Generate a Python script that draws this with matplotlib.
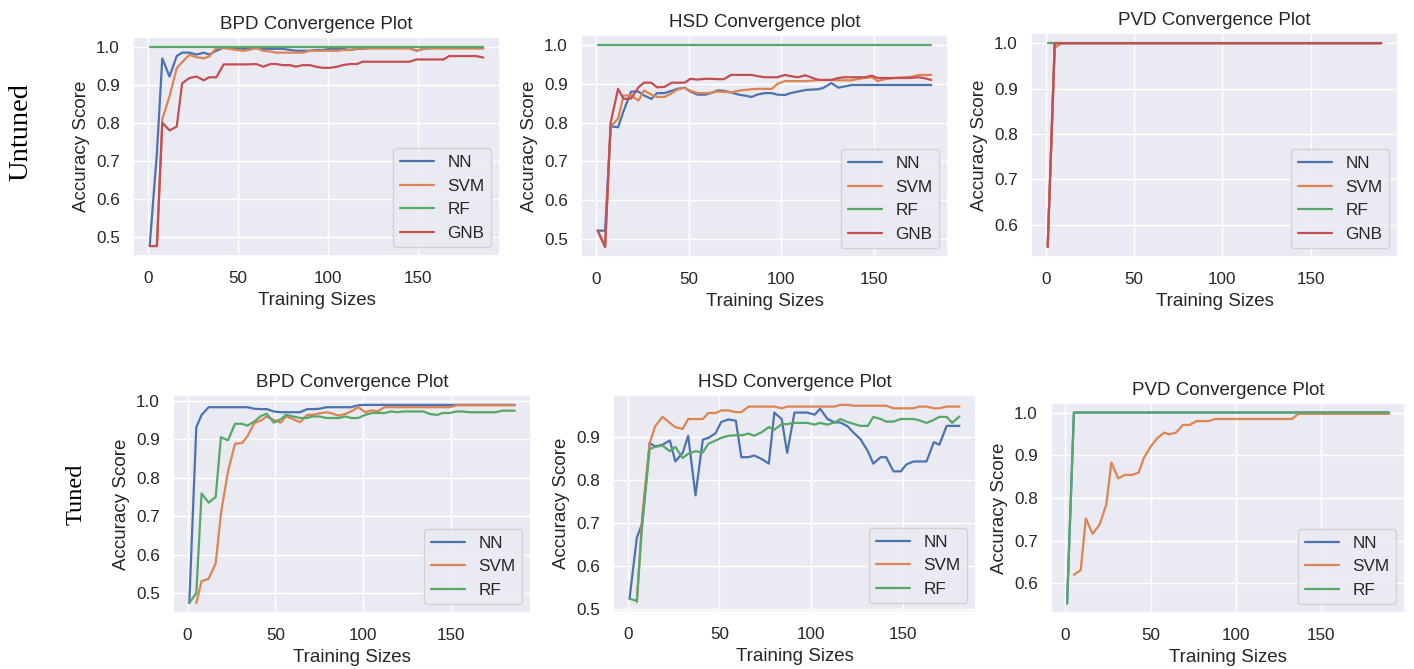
import numpy as np
import seaborn as sns
from matplotlib import pyplot as plt

nan = np.nan

# training sizes per dataset
bpd_sizes = [1, 5, 8, 12, 16, 19, 23, 27, 31, 34, 38, 42, 45, 49, 53, 56, 60, 64, 68, 71,
             75, 79, 82, 86, 90, 93, 97, 101, 105, 108, 112, 116, 119, 123, 127, 130, 134,
             138, 142, 145, 149, 153, 156, 160, 164, 167, 171, 175, 179, 182, 186]
hsd_sizes = [1, 5, 8, 12, 15, 19, 23, 26, 30, 33, 37, 41, 44, 48, 51, 55, 59, 62, 66, 69,
             73, 77, 80, 84, 87, 91, 95, 98, 102, 105, 109, 113, 116, 120, 123, 127, 131,
             134, 138, 141, 145, 149, 152, 156, 159, 163, 167, 170, 174, 177, 181]
pvd_sizes = [1, 5, 9, 12, 16, 20, 24, 27, 31, 35, 39, 43, 46, 50, 54, 58, 61, 65, 69, 73,
             77, 80, 84, 88, 92, 95, 99, 103, 107, 111, 114, 118, 122, 126, 129, 133, 137,
             141, 145, 148, 152, 156, 160, 163, 167, 171, 175, 179, 182, 186, 190]

# untuned BPD
bpd_nn = [.475, .72, .97, .922, .976, .985, .985, .98, .985, .98, .99, .998, .998, .997, .995,
          .995, .997, .995, .995, .995, .995, .992, .99, .99, .99, .992, .992, .995, .995, .995,
          .992, .995, .995, .997, .997, .997, .997, .997, .997, .997, .99, .995, .997, .997,
          .997, .997, .997, .997, .997, .997, .997]
bpd_svm = [.475, .475, .81, .87, .944, .96, .979, .973, .97, .975, .997, .997, .995, .992, .99,
           .992, .997, .99, .988, .985, .985, .985, .985, .985, .99, .99, .99, .99, .99, .992,
           .992, .996, .996, .996, .996, .996, .996, .996, .996, .996, .99, .996, .996, .996,
           .996, .996, .996, .996, .996, .996, .996]
bpd_rf = [1.0] * 51
bpd_gnb = [.475, .475, .80, .78, .79, .904, .918, .922, .912, .92, .92, .954, .954, .954, .954,
           .954, .955, .948, .955, .955, .952, .952, .948, .952, .952, .948, .945, .945, .948,
           .952, .955, .955, .961, .961, .961, .961, .961, .961, .961, .961, .967, .967, .967,
           .967, .967, .976, .976, .976, .976, .976, .972]

# untuned HSD
hsd_nn = [.521, .521, .79, .788, .83, .88, .88, .87, .861, .876, .876, .882, .887, .89, .88,
          .872, .872, .876, .883, .882, .878, .872, .87, .866, .872, .876, .876, .872, .871,
          .876, .88, .884, .885, .886, .89, .902, .89, .893, .897, .897, .897, .897, .897,
          .897, .897, .897, .897, .897, .897, .897, .897]
hsd_svm = [.521, .479, .79, .81, .87, .87, .857, .883, .872, .866, .866, .876, .885, .89, .882,
           .876, .876, .877, .88, .879, .878, .882, .884, .886, .887, .887, .887, .9, .907,
           .907, .907, .907, .908, .91, .91, .91, .909, .909, .909, .912, .915, .917, .907,
           .912, .914, .916, .917, .918, .923, .923, .923]
hsd_rf = [1.0] * 51
hsd_gnb = [.521, .479, .80, .887, .861, .862, .891, .903, .903, .891, .892, .903, .903, .903,
           .913, .911, .913, .913, .912, .912, .923, .923, .923, .923, .92, .917, .917, .917,
           .923, .92, .917, .922, .917, .91, .91, .91, .915, .917, .917, .917, .917, .921,
           .915, .915, .915, .915, .915, .915, .917, .915, .91]

# untuned PVD
pvd_nn = [.551] + [1.0] * 50
pvd_svm = [.551, .99] + [1.0] * 49
pvd_rf = [1.0] * 51
pvd_gnb = [.551] + [1.0] * 50

# tuned BPD
bpd_nn_t = [.474, .931, .963, .983, .983, .983, .983, .983, .983, .983, .979, .978, .978, .972,
            .97, .97, .97, .97, .978, .978, .979, .983, .983, .983, .983, .983, .988, .989,
            .989, .989, .989, .989, .989, .989, .989, .989, .989, .989, .989, .989, .989, .989,
            .989, .989, .989, .989, .989, .989, .989, .989, .989]
bpd_svm_t = [nan, .474, .531, .537, .577, .707, .816, .888, .89, .907, .942, .949, .959, .95,
             .943, .959, .952, .944, .963, .963, .967, .97, .967, .961, .966, .972, .983, .97,
             .975, .972, .983, .983, .983, .983, .983, .983, .983, .983, .983, .983, .983, .988,
             .988, .988, .988, .988, .988, .988, .988, .988, .988]
bpd_rf_t = [.474, .50, .759, .735, .75, .905, .897, .94, .94, .935, .946, .961, .966, .943, .952,
            .963, .959, .955, .955, .959, .959, .955, .955, .955, .959, .955, .955, .963, .968,
            .968, .968, .972, .97, .972, .972, .972, .972, .965, .963, .968, .968, .972, .972,
            .97, .97, .97, .97, .97, .974, .974, .974]

# tuned HSD
hsd_nn_t = [.523, .665, .70, .886, .878, .882, .892, .843, .863, .903, .764, .894, .898, .909,
            .935, .941, .938, .853, .853, .857, .849, .838, .957, .942, .863, .957, .957, .957,
            .952, .966, .942, .934, .934, .925, .911, .895, .867, .838, .853, .853, .82, .82,
            .836, .843, .843, .843, .888, .882, .926, .926, .926]
hsd_svm_t = [nan, .515, .72, .886, .925, .947, .933, .923, .919, .942, .942, .942, .956, .956,
             .962, .962, .958, .958, .971, .971, .971, .971, .971, .967, .971, .971, .971, .971,
             .971, .971, .971, .971, .975, .975, .973, .973, .973, .973, .973, .973, .967, .967,
             .967, .967, .971, .971, .967, .967, .971, .971, .971]
hsd_rf_t = [.523, .518, .70, .872, .877, .88, .867, .877, .851, .861, .867, .864, .884, .892,
            .898, .903, .904, .904, .908, .903, .911, .923, .917, .93, .93, .933, .933, .933,
            .929, .933, .929, .934, .942, .935, .931, .926, .926, .947, .942, .936, .936, .942,
            .942, .942, .939, .933, .94, .947, .947, .933, .948]

# tuned PVD
pvd_nn_t = [.553] + [1.0] * 50
pvd_svm_t = [nan, .62, .631, .752, .716, .737, .784, .883, .846, .854, .854, .859, .893, .92,
             .94, .953, .949, .953, .971, .971, .98, .98, .98] + [.985] * 13 + [.997] * 15
pvd_rf_t = [.553] + [1.0] * 50

sns.set_theme(style='darkgrid')
plt.rcParams['font.family'] = ['Liberation Sans', 'DejaVu Sans']

W, H = 1414, 669
fig = plt.figure(figsize=(W / 100, H / 100), dpi=100)


def box(l, t, r, b):
    return [l / W, 1 - b / H, (r - l) / W, (b - t) / H]


panels = [
    (box(133, 37, 500, 256), 'BPD Convergence Plot', bpd_sizes,
     [('NN', bpd_nn), ('SVM', bpd_svm), ('RF', bpd_rf), ('GNB', bpd_gnb)]),
    (box(581, 35, 948, 257), 'HSD Convergence plot', hsd_sizes,
     [('NN', hsd_nn), ('SVM', hsd_svm), ('RF', hsd_rf), ('GNB', hsd_gnb)]),
    (box(1031, 33, 1398, 257), 'PVD Convergence Plot', pvd_sizes,
     [('NN', pvd_nn), ('SVM', pvd_svm), ('RF', pvd_rf), ('GNB', pvd_gnb)]),
    (box(173, 395, 531, 613), 'BPD Convergence Plot', bpd_sizes,
     [('NN', bpd_nn_t), ('SVM', bpd_svm_t), ('RF', bpd_rf_t)]),
    (box(613, 395, 976, 612), 'HSD Convergence Plot', hsd_sizes,
     [('NN', hsd_nn_t), ('SVM', hsd_svm_t), ('RF', hsd_rf_t)]),
    (box(1051, 403, 1405, 613), 'PVD Convergence Plot', pvd_sizes,
     [('NN', pvd_nn_t), ('SVM', pvd_svm_t), ('RF', pvd_rf_t)]),
]

for rect, title, sizes, series in panels:
    ax = fig.add_axes(rect)
    for name, vals in series:
        ax.plot(sizes, vals, label=name, lw=1.6)
    ax.set_title(title, fontsize=13.5)
    ax.set_xlabel('Training Sizes', fontsize=13.5, labelpad=4)
    ax.set_ylabel('Accuracy Score', fontsize=13.5)
    ax.tick_params(labelsize=12.3)
    ax.tick_params(axis='x', pad=5)
    ax.set_xticks([0, 50, 100, 150])
    ax.legend(loc='lower right', fontsize=12.3)

fig.text(21 / W, 1 - 132 / H, 'Untuned', rotation=90, ha='center', va='center',
         family='Liberation Serif', fontsize=20.5, color='black')
fig.text(76 / W, 1 - 494 / H, 'Tuned', rotation=90, ha='center', va='center',
         family='Liberation Serif', fontsize=17.5, color='black')

fig.savefig('out.png', dpi=100)
